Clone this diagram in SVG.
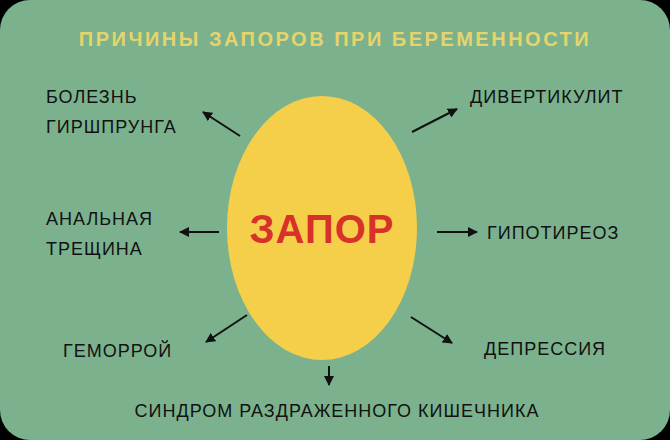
<svg xmlns="http://www.w3.org/2000/svg" width="670" height="440" viewBox="0 0 670 440">
<defs><marker id="ah" viewBox="0 0 10 10" refX="9" refY="5" markerWidth="5" markerHeight="5" orient="auto"><path d="M0,0 L10,5 L0,10 Z" fill="#111"/></marker></defs>
<style>
.t{font-family:"Liberation Sans",sans-serif;font-size:18px;fill:#111;letter-spacing:1px}
.c{stroke:#111;stroke-width:2;marker-end:url(#ah)}
</style>
<rect width="670" height="440" fill="#000"/>
<rect x="0" y="0" width="670" height="440" rx="30" fill="#7bb28d"/>
<text x="335" y="46" text-anchor="middle" font-family="Liberation Sans,sans-serif" font-weight="bold" font-size="20" fill="#e6d46a" letter-spacing="2.5">ПРИЧИНЫ ЗАПОРОВ ПРИ БЕРЕМЕННОСТИ</text>
<g id="center"><ellipse cx="322" cy="228" rx="95" ry="132" fill="#f5cf4a"/>
<text x="322" y="243" text-anchor="middle" font-family="Liberation Sans,sans-serif" font-weight="bold" font-size="40" fill="#d8312a" letter-spacing="1">ЗАПОР</text></g>
<g id="n1"><text class="t" x="46" y="103">БОЛЕЗНЬ</text><text class="t" x="46" y="133">ГИРШПРУНГА</text></g>
<g id="n2"><text class="t" x="470" y="103">ДИВЕРТИКУЛИТ</text></g>
<g id="n3"><text class="t" x="46" y="225">АНАЛЬНАЯ</text><text class="t" x="46" y="255">ТРЕЩИНА</text></g>
<g id="n4"><text class="t" x="487" y="239">ГИПОТИРЕОЗ</text></g>
<g id="n5"><text class="t" x="63" y="357">ГЕМОРРОЙ</text></g>
<g id="n6"><text class="t" x="484" y="355">ДЕПРЕССИЯ</text></g>
<g id="n7"><text class="t" x="337" y="417" text-anchor="middle">СИНДРОМ РАЗДРАЖЕННОГО КИШЕЧНИКА</text></g>
<g id="connectors">
<line class="c" x1="240" y1="136" x2="203" y2="112"/>
<line class="c" x1="412" y1="132" x2="457" y2="109"/>
<line class="c" x1="219" y1="232" x2="180" y2="232"/>
<line class="c" x1="437" y1="232" x2="477" y2="232"/>
<line class="c" x1="247" y1="315" x2="206" y2="342"/>
<line class="c" x1="411" y1="317" x2="452" y2="343"/>
<line class="c" x1="329" y1="366" x2="329" y2="385"/>
</g>
</svg>
